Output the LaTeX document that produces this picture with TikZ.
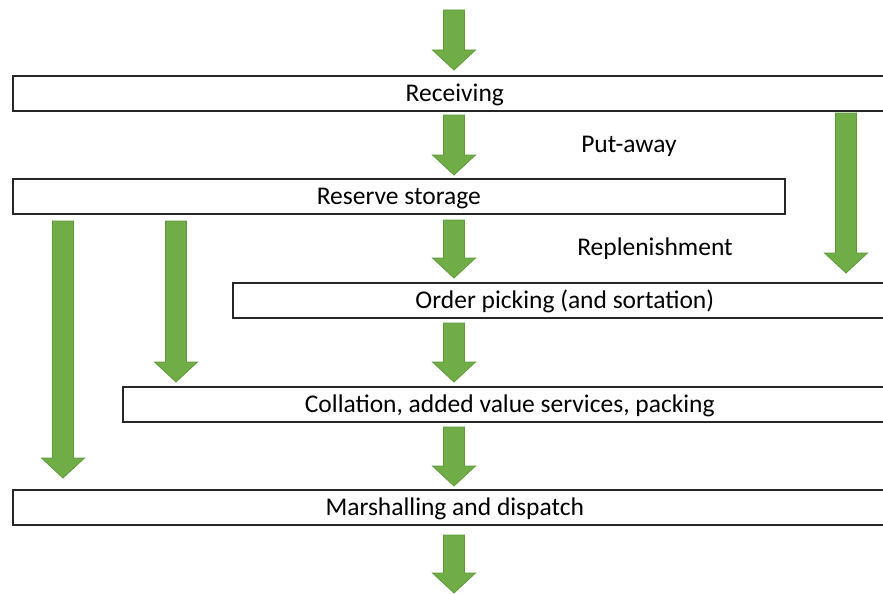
\documentclass[tikz,border=0pt]{standalone}
\usepackage{fontspec}
\setmainfont{Carlito}
\definecolor{agreen}{HTML}{70AD47}
\definecolor{agreenedge}{HTML}{5E9A3A}
\definecolor{boxline}{HTML}{262626}
\newcommand{\blockarrow}[3]{% x center, y top, y tip
  \fill[agreen,draw=agreenedge,line width=0.8pt]
    (#1-10.5,#2) -- (#1+10.5,#2) -- (#1+10.5,#3-20) -- (#1+21.5,#3-20)
    -- (#1,#3) -- (#1-21.5,#3-20) -- (#1-10.5,#3-20) -- cycle;}
\begin{document}
\begin{tikzpicture}[x=1pt,y=-1pt,
  stagebox/.style={draw=boxline,line width=1.6pt,fill=white,inner sep=0pt,
    anchor=north west,font=\fontsize{25.5}{30}\selectfont,
    text height=19pt,text depth=3pt,minimum height=35pt},
  flowlabel/.style={font=\fontsize{25.5}{30}\selectfont,inner sep=0pt,anchor=base}]
\useasboundingbox (0,0) rectangle (883,594);
\clip (0,0) rectangle (883,594);
\node[stagebox,minimum width=884pt] (recv) at (12,75) {Receiving};
\node[stagebox,minimum width=772pt] (reserve) at (12,178) {Reserve storage};
\node[stagebox,minimum width=664pt] (pick) at (232,282) {Order picking (and sortation)};
\node[stagebox,minimum width=774pt] (coll) at (122,386) {Collation, added value services, packing};
\node[stagebox,minimum width=884pt] (dispatch) at (12,489) {Marshalling and dispatch};
\node[flowlabel] (putaway) at (629,152) {Put-away};
\node[flowlabel] (replen) at (655,255) {Replenishment};
\blockarrow{454}{10}{70}
\blockarrow{454}{115}{175}
\blockarrow{454}{220}{278}
\blockarrow{454}{323}{382}
\blockarrow{454}{427}{486}
\blockarrow{454}{535}{593}
\blockarrow{846}{113}{273}
\blockarrow{63}{221}{478}
\blockarrow{176}{221}{382}
\end{tikzpicture}
\end{document}
